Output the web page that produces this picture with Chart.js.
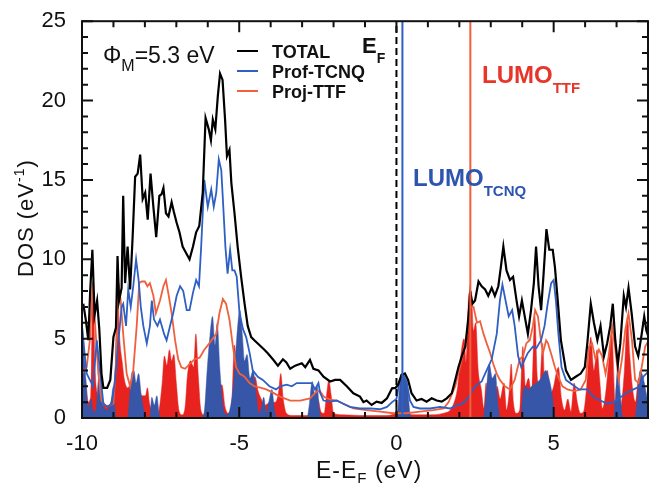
<!DOCTYPE html>
<html>
<head>
<meta charset="utf-8">
<script src="https://cdn.jsdelivr.net/npm/chart.js@4.4.1/dist/chart.umd.min.js"></script>
<style>
  html, body { margin: 0; padding: 0; background: #fff; }
  #wrap { width: 649px; height: 487px; }
</style>
</head>
<body>
<div id="wrap"><canvas id="dos" width="649" height="487"></canvas></div>
<script>
// energies (eV, relative to E_F) and DOS values
const totalE = [-9.96, -9.88, -9.8, -9.74, -9.67, -9.6, -9.52, -9.45, -9.38, -9.32, -9.2, -9.1, -9.0, -8.92, -8.87, -8.82, -8.74, -8.69, -8.63, -8.55, -8.47, -8.39, -8.31, -8.23, -8.15, -8.07, -7.99, -7.91, -7.82, -7.73, -7.64, -7.54, -7.47, -7.41, -7.33, -7.25, -7.15, -7.08, -6.99, -6.9, -6.8, -6.69, -6.58, -6.47, -6.37, -6.27, -6.16, -6.07, -5.97, -5.9, -5.84, -5.76, -5.68, -5.61, -5.53, -5.45, -5.39, -5.31, -5.25, -5.15, -5.05, -4.94, -4.83, -4.73, -4.62, -4.52, -4.36, -4.2, -4.1, -3.93, -3.77, -3.61, -3.5, -3.38, -3.22, -3.01, -2.9, -2.75, -2.64, -2.48, -2.32, -2.11, -1.95, -1.79, -1.58, -1.37, -1.16, -1.05, -0.95, -0.79, -0.63, -0.47, -0.3, -0.14, -0.03, 0.05, 0.16, 0.27, 0.37, 0.48, 0.64, 0.8, 0.96, 1.12, 1.28, 1.44, 1.6, 1.76, 1.87, 1.97, 2.08, 2.19, 2.29, 2.35, 2.42, 2.5, 2.61, 2.71, 2.82, 2.92, 3.03, 3.13, 3.24, 3.32, 3.4, 3.5, 3.61, 3.71, 3.82, 3.9, 3.99, 4.08, 4.18, 4.28, 4.37, 4.44, 4.52, 4.6, 4.68, 4.77, 4.86, 4.97, 5.04, 5.13, 5.23, 5.39, 5.55, 5.7, 5.86, 5.99, 6.07, 6.18, 6.28, 6.39, 6.49, 6.6, 6.7, 6.8, 6.88, 6.96, 7.04, 7.12, 7.23, 7.3, 7.38, 7.48, 7.59, 7.69, 7.8, 7.88, 7.95, 8.0];
const totalDos = [7.2, 6.2, 4.9, 8.0, 10.6, 6.5, 7.4, 5.6, 2.8, 1.9, 1.9, 2.4, 5.1, 5.7, 10.2, 7.4, 8.2, 14.0, 8.5, 10.8, 8.1, 11.4, 15.2, 15.4, 16.6, 13.8, 14.2, 12.5, 15.4, 13.3, 11.4, 14.0, 14.1, 14.5, 12.9, 12.7, 13.6, 13.0, 12.3, 11.7, 10.8, 10.4, 10.0, 10.8, 11.7, 12.1, 14.2, 18.9, 18.2, 17.5, 18.8, 18.2, 20.3, 21.7, 21.3, 18.8, 16.5, 16.9, 14.8, 12.9, 10.8, 8.9, 7.2, 5.8, 5.1, 4.9, 4.6, 4.3, 4.1, 3.7, 3.3, 3.7, 3.5, 3.1, 3.3, 3.45, 3.2, 3.66, 3.1, 3.0, 2.6, 2.3, 2.4, 2.4, 2.0, 1.56, 1.35, 1.0, 1.1, 0.82, 1.03, 0.95, 1.24, 1.87, 1.9, 2.08, 2.7, 2.8, 2.4, 1.56, 1.1, 1.2, 1.03, 1.24, 1.1, 1.03, 1.24, 1.56, 2.4, 3.2, 3.9, 4.5, 6.4, 7.9, 7.2, 7.4, 8.6, 8.3, 8.1, 7.7, 8.2, 7.7, 8.3, 9.5, 10.8, 9.3, 8.7, 8.9, 7.4, 6.4, 7.4, 6.4, 5.3, 6.8, 8.5, 10.8, 8.3, 6.8, 9.1, 11.9, 10.6, 10.6, 9.5, 7.4, 4.9, 3.0, 2.4, 2.6, 2.8, 3.2, 4.7, 7.2, 6.0, 4.9, 5.8, 3.9, 4.7, 5.8, 7.2, 4.9, 3.4, 4.7, 7.7, 7.0, 8.2, 6.6, 4.5, 3.9, 5.3, 6.4, 5.5, 5.2];

const tcnqE = [-10.0, -9.96, -9.85, -9.75, -9.65, -9.53, -9.42, -9.32, -9.2, -9.05, -8.95, -8.84, -8.74, -8.69, -8.6, -8.53, -8.45, -8.37, -8.28, -8.2, -8.13, -8.05, -7.94, -7.84, -7.78, -7.71, -7.6, -7.52, -7.39, -7.31, -7.2, -7.1, -6.99, -6.88, -6.78, -6.67, -6.58, -6.47, -6.37, -6.28, -6.21, -6.11, -6.0, -5.89, -5.81, -5.73, -5.65, -5.57, -5.52, -5.44, -5.37, -5.29, -5.22, -5.15, -5.08, -4.99, -4.88, -4.78, -4.67, -4.57, -4.41, -4.25, -4.04, -3.83, -3.7, -3.49, -3.33, -3.17, -2.96, -2.69, -2.59, -2.48, -2.43, -2.32, -2.11, -1.9, -1.69, -1.48, -1.16, -0.84, -0.52, -0.3, -0.14, 0.0, 0.11, 0.22, 0.32, 0.43, 0.54, 0.75, 1.07, 1.39, 1.7, 1.92, 2.1, 2.29, 2.5, 2.71, 2.82, 3.03, 3.19, 3.29, 3.37, 3.47, 3.57, 3.68, 3.76, 3.87, 3.97, 4.08, 4.18, 4.34, 4.45, 4.6, 4.71, 4.81, 4.92, 5.0, 5.07, 5.15, 5.25, 5.39, 5.6, 5.81, 6.07, 6.28, 6.49, 6.7, 6.91, 7.12, 7.33, 7.54, 7.75, 7.85, 8.0];
const tcnqDos = [5.8, 4.9, 2.8, 2.4, 2.0, 4.9, 2.8, 0.9, 0.7, 0.9, 2.4, 4.9, 7.0, 7.2, 5.8, 8.1, 7.0, 8.3, 10.0, 8.7, 7.0, 5.8, 4.7, 5.8, 7.4, 6.2, 5.8, 6.2, 5.3, 4.9, 5.8, 6.6, 7.7, 8.3, 8.0, 6.8, 6.8, 7.9, 8.7, 8.3, 10.8, 15.0, 13.3, 14.4, 13.3, 14.2, 16.3, 15.6, 13.8, 10.8, 9.1, 10.6, 9.3, 9.3, 8.9, 6.6, 5.6, 5.1, 4.1, 3.0, 2.6, 2.4, 2.0, 1.8, 2.0, 2.1, 2.0, 2.2, 2.2, 2.2, 1.8, 2.2, 1.6, 1.1, 1.03, 1.1, 0.9, 0.7, 0.6, 0.6, 0.55, 0.7, 1.0, 1.2, 2.4, 2.7, 2.3, 1.1, 0.7, 0.6, 0.6, 0.7, 0.6, 0.8, 0.9, 1.3, 2.0, 2.3, 2.8, 3.7, 5.3, 7.4, 8.4, 7.4, 6.4, 6.8, 5.8, 3.9, 3.2, 3.7, 4.1, 4.5, 4.4, 4.9, 5.8, 7.2, 8.5, 8.7, 7.4, 5.3, 3.2, 2.4, 2.1, 1.8, 1.8, 1.3, 1.1, 0.9, 1.0, 1.3, 1.6, 1.8, 2.0, 2.6, 2.9];

const ttfE = [-10.0, -9.85, -9.75, -9.66, -9.58, -9.48, -9.38, -9.22, -9.0, -8.9, -8.84, -8.77, -8.69, -8.58, -8.47, -8.37, -8.26, -8.18, -8.1, -8.0, -7.92, -7.84, -7.73, -7.65, -7.52, -7.41, -7.33, -7.25, -7.15, -7.04, -6.94, -6.84, -6.72, -6.58, -6.42, -6.26, -6.11, -5.95, -5.73, -5.63, -5.52, -5.42, -5.31, -5.2, -5.1, -4.99, -4.83, -4.67, -4.52, -4.3, -4.14, -3.93, -3.7, -3.38, -3.06, -2.75, -2.54, -2.43, -2.32, -2.1, -1.9, -1.69, -1.37, -0.95, -0.52, -0.09, 0.33, 0.75, 1.17, 1.5, 1.66, 1.87, 2.08, 2.24, 2.35, 2.45, 2.56, 2.66, 2.77, 2.87, 2.98, 3.08, 3.19, 3.29, 3.45, 3.61, 3.76, 3.92, 4.03, 4.13, 4.24, 4.34, 4.41, 4.5, 4.58, 4.66, 4.76, 4.82, 4.94, 5.04, 5.14, 5.28, 5.44, 5.65, 5.86, 6.02, 6.12, 6.22, 6.33, 6.44, 6.54, 6.65, 6.75, 6.86, 6.96, 7.07, 7.17, 7.28, 7.38, 7.49, 7.59, 7.7, 7.8, 7.91, 8.0];
const ttfDos = [2.8, 3.2, 4.9, 8.5, 5.8, 2.8, 1.1, 0.7, 0.9, 4.1, 8.5, 7.4, 5.3, 2.8, 2.0, 3.0, 5.8, 8.5, 8.6, 8.6, 8.3, 8.5, 7.7, 6.6, 7.4, 8.3, 8.7, 7.8, 6.6, 4.9, 3.7, 3.2, 3.1, 3.4, 3.7, 3.8, 4.3, 4.7, 5.3, 6.6, 7.5, 7.2, 6.2, 4.5, 3.2, 2.8, 2.6, 2.2, 2.0, 1.9, 1.8, 1.6, 1.35, 1.1, 1.1, 1.24, 1.66, 1.7, 1.35, 1.15, 1.1, 0.9, 0.6, 0.5, 0.4, 0.3, 0.3, 0.4, 0.5, 0.6, 1.0, 2.0, 3.7, 5.3, 7.0, 7.0, 6.0, 6.1, 5.3, 4.7, 4.1, 3.4, 2.8, 2.4, 2.0, 1.8, 2.4, 3.7, 3.9, 4.7, 4.9, 5.8, 6.8, 6.4, 5.1, 4.1, 4.9, 4.7, 3.9, 3.2, 2.6, 2.0, 1.8, 1.7, 1.8, 2.4, 4.5, 4.7, 3.7, 4.3, 3.9, 2.8, 3.9, 5.8, 4.3, 2.4, 3.7, 5.6, 6.6, 4.9, 2.4, 2.2, 3.2, 4.5, 4.8];

// filled partial DOS (red and blue shaded areas)
const redFillE = [-10.0, -9.9, -9.8, -9.72, -9.65, -9.58, -9.5, -9.4, -9.3, -9.15, -9.05, -8.95, -8.87, -8.8, -8.72, -8.65, -8.55, -8.45, -8.3, -8.2, -8.1, -7.98, -7.92, -7.85, -7.75, -7.65, -7.55, -7.45, -7.38, -7.3, -7.22, -7.15, -7.08, -7.0, -6.92, -6.82, -6.72, -6.65, -6.55, -6.45, -6.38, -6.3, -6.22, -6.12, -6.02, -5.95, -5.85, -5.7, -5.55, -5.45, -5.35, -5.25, -5.15, -5.08, -5.0, -4.9, -4.8, -4.7, -4.6, -4.5, -4.4, -4.3, -4.2, -4.0, -3.85, -3.75, -3.68, -3.6, -3.5, -3.3, -2.8, -2.6, -2.5, -2.4, -2.3, -2.22, -2.15, -2.08, -2.0, -1.7, -1.0, -0.3, 0.0, 0.2, 0.5, 1.0, 1.5, 1.8, 1.95, 2.05, 2.15, 2.22, 2.3, 2.38, 2.45, 2.52, 2.6, 2.7, 2.78, 2.85, 2.92, 3.0, 3.1, 3.2, 3.3, 3.42, 3.5, 3.58, 3.65, 3.72, 3.82, 3.92, 4.02, 4.1, 4.2, 4.3, 4.4, 4.48, 4.55, 4.65, 4.72, 4.8, 4.88, 5.0, 5.08, 5.15, 5.25, 5.35, 5.45, 5.55, 5.65, 5.75, 5.85, 5.95, 6.05, 6.12, 6.18, 6.28, 6.38, 6.46, 6.55, 6.65, 6.75, 6.85, 6.95, 7.05, 7.15, 7.25, 7.35, 7.42, 7.5, 7.6, 7.7, 7.8, 7.9, 8.0];
const redFillDos = [1.5, 2.5, 1.0, 1.4, 8.6, 3.0, 1.4, 1.0, 0.8, 0.8, 1.2, 2.5, 8.4, 5.0, 3.5, 2.4, 1.9, 2.1, 1.6, 1.9, 1.4, 1.4, 1.9, 0.9, 0.4, 0.2, 0.5, 2.2, 3.9, 3.3, 4.3, 3.6, 4.0, 2.2, 0.5, 0.2, 0.7, 2.6, 3.6, 3.2, 5.3, 2.6, 0.5, 0.2, 1.0, 3.0, 1.9, 1.6, 2.1, 0.7, 0.3, 0.6, 4.6, 2.4, 1.9, 2.2, 2.0, 2.6, 1.9, 2.6, 1.7, 1.2, 0.8, 1.0, 1.0, 1.6, 2.8, 1.2, 0.3, 0.15, 0.15, 0.4, 1.2, 0.4, 0.3, 1.5, 2.4, 1.5, 0.3, 0.2, 0.15, 0.15, 0.3, 0.4, 0.2, 0.2, 0.3, 0.8, 2.0, 4.0, 5.0, 3.5, 7.8, 8.0, 5.5, 6.0, 3.0, 1.8, 0.6, 2.2, 0.8, 0.4, 0.6, 2.0, 1.2, 2.2, 0.5, 1.5, 3.4, 1.0, 0.3, 0.5, 4.5, 2.0, 2.5, 1.5, 6.4, 2.5, 2.0, 4.7, 2.0, 3.0, 1.5, 2.0, 2.8, 3.2, 1.2, 0.5, 1.2, 0.4, 2.2, 1.0, 0.3, 0.4, 2.0, 4.0, 5.1, 3.0, 4.3, 2.5, 0.6, 1.5, 3.5, 5.3, 1.0, 0.4, 0.8, 3.0, 6.4, 4.0, 2.0, 1.0, 2.5, 1.5, 0.5, 1.0];

const blueFillE = [-10.0, -9.95, -9.88, -9.8, -9.72, -9.64, -9.55, -9.47, -9.4, -9.33, -9.2, -9.08, -9.0, -8.95, -8.9, -8.55, -8.48, -8.42, -8.35, -8.28, -8.2, -8.12, -8.05, -7.98, -7.85, -7.78, -7.7, -7.62, -7.55, -7.5, -6.2, -6.1, -6.02, -5.93, -5.85, -5.77, -5.7, -5.62, -5.52, -5.42, -5.3, -5.18, -5.08, -4.98, -4.9, -4.83, -4.75, -4.66, -4.56, -4.46, -4.38, -4.3, -4.22, -4.14, -4.05, -3.96, -3.88, -3.8, -2.85, -2.76, -2.68, -2.6, -2.52, -2.45, -2.38, 0.02, 0.08, 0.15, 0.25, 0.35, 0.43, 0.5, 2.76, 2.85, 2.95, 3.05, 3.15, 3.22, 3.3, 3.95, 4.02, 4.1, 4.2, 4.3, 4.45, 4.6, 4.75, 4.85, 4.95, 5.02, 5.1, 6.9, 6.97, 7.05, 7.12, 7.2, 7.58, 7.65, 7.75, 7.85, 7.95, 8.0];
const blueFillDos = [6.0, 5.0, 2.5, 0.6, 1.2, 0.4, 0.5, 2.5, 1.8, 0.8, 0.5, 1.0, 2.0, 0.5, 0, 0, 1.5, 2.8, 3.0, 2.2, 2.8, 1.5, 0.6, 0, 0, 1.3, 0.8, 1.4, 0.3, 0, 0, 0.6, 3.0, 5.2, 6.4, 4.6, 6.0, 3.2, 0.8, 0.2, 0.5, 2.2, 5.0, 6.8, 5.2, 3.6, 4.0, 2.5, 3.0, 1.5, 0.3, 0.6, 1.3, 0.3, 1.1, 1.8, 0.5, 0, 0, 1.0, 2.3, 1.5, 2.0, 0.5, 0, 0, 1.5, 2.8, 2.6, 2.0, 0.3, 0, 0, 1.5, 3.4, 2.5, 2.8, 1.0, 0, 0, 1.5, 2.0, 1.8, 2.0, 2.2, 2.5, 3.0, 2.5, 1.5, 0.3, 0, 0, 1.5, 3.4, 1.5, 0, 0, 1.0, 3.0, 2.5, 1.5, 1.0];

// reference levels
const fermiLevel = 0;
const lumoTcnq = 0.19;
const lumoTtf = 2.35;

// axes
const xTicks = [-10, -5, 0, 5];
const yTicks = [0, 5, 10, 15, 20, 25];
const xMin = -10, xMax = 8, yMin = 0, yMax = 25;

const FONT = '"Liberation Sans", Arial, Helvetica, sans-serif';
const RED_LINE = '#f0603c';
const BLUE_LINE = '#2e5fc4';

const pts = (xs, ys) => xs.map((v, i) => ({ x: v, y: ys[i] }));
const vline = (e) => [{ x: e, y: yMin }, { x: e, y: yMax }];

// draws a string made of pieces (for sub/superscripts)
function rich(ctx, x, y, parts, color) {
  ctx.fillStyle = color;
  parts.forEach((p) => {
    ctx.font = (p.bold ? 'bold ' : '') + p.size + 'px ' + FONT;
    ctx.fillText(p.t, x, y + (p.dy || 0));
    x += ctx.measureText(p.t).width + (p.gap || 0);
  });
}

// frame with inward ticks on all four sides (minor every 1, major every 5)
const frameTicks = {
  id: 'frameTicks',
  afterDraw(chart) {
    const c = chart.ctx;
    const a = chart.chartArea;
    const w = a.right - a.left, h = a.bottom - a.top;
    const xpos = (v) => a.left + (v - xMin) / (xMax - xMin) * w;
    const ypos = (v) => a.bottom - (v - yMin) / (yMax - yMin) * h;
    c.save();
    c.setLineDash([]);
    c.strokeStyle = '#111';
    c.lineWidth = 2;
    c.strokeRect(a.left, a.top, w, h);
    c.lineWidth = 2;
    c.beginPath();
    for (let v = xMin; v <= xMax; v += 1) {
      const px = xpos(v);
      const len = Math.abs(v) % 5 === 0 ? 11 : 6;
      c.moveTo(px, a.bottom); c.lineTo(px, a.bottom - len);
      c.moveTo(px, a.top); c.lineTo(px, a.top + len);
    }
    for (let v = yMin; v <= yMax; v += 1) {
      const py = ypos(v);
      const len = v % 5 === 0 ? 11 : 6;
      c.moveTo(a.left, py); c.lineTo(a.left + len, py);
      c.moveTo(a.right, py); c.lineTo(a.right - len, py);
    }
    c.stroke();
    c.restore();
  }
};

const labels = {
  id: 'labels',
  afterDraw(chart) {
    const ctx = chart.ctx;
    ctx.save();
    ctx.textBaseline = 'alphabetic';
    ctx.textAlign = 'left';

    // axis titles
    ctx.letterSpacing = '1px';
    rich(ctx, 316, 478, [
      { t: 'E-E', size: 23 }, { t: 'F', size: 15, dy: 5 }, { t: ' (eV)', size: 23 }
    ], '#111');
    ctx.save();
    ctx.translate(33, 277);
    ctx.rotate(-Math.PI / 2);
    rich(ctx, 0, 0, [
      { t: 'DOS (eV', size: 22 }, { t: '-1', size: 14, dy: -9 }, { t: ')', size: 22 }
    ], '#111');
    ctx.restore();
    ctx.letterSpacing = '0px';

    // work function
    rich(ctx, 103, 63, [
      { t: '\u03a6', size: 23 }, { t: 'M', size: 16, dy: 8 }, { t: '=5.3 eV', size: 23 }
    ], '#111');

    // legend
    const legend = [['TOTAL', '#000'], ['Prof-TCNQ', BLUE_LINE], ['Proj-TTF', RED_LINE]];
    legend.forEach(([name, col], i) => {
      const ly = 51 + i * 20;
      ctx.strokeStyle = col;
      ctx.lineWidth = 2;
      ctx.beginPath(); ctx.moveTo(237, ly); ctx.lineTo(258, ly); ctx.stroke();
      rich(ctx, 272, ly + 6.5, [{ t: name, size: 18, bold: true }], '#111');
    });

    // level labels
    rich(ctx, 362, 53, [{ t: 'E', size: 22, bold: true }, { t: 'F', size: 14, bold: true, dy: 10 }], '#111');
    rich(ctx, 482, 83, [{ t: 'LUMO', size: 24, bold: true }, { t: 'TTF', size: 15, bold: true, dy: 10 }], '#e8352a');
    rich(ctx, 413, 186, [{ t: 'LUMO', size: 24, bold: true }, { t: 'TCNQ', size: 15, bold: true, dy: 10 }], '#2d55b0');

    ctx.restore();
  }
};

const ctx = document.getElementById('dos').getContext('2d');
new Chart(ctx, {
  type: 'line',
  data: {
    datasets: [
      { label: 'TTF fill', data: pts(redFillE, redFillDos), borderColor: '#e8231f', borderWidth: 0.5, backgroundColor: '#e8231f', fill: 'origin', cubicInterpolationMode: 'monotone', order: 9 },
      { label: 'TCNQ fill', data: pts(blueFillE, blueFillDos), borderColor: '#3856a8', borderWidth: 0.5, backgroundColor: '#3856a8', fill: 'origin', cubicInterpolationMode: 'monotone', order: 8 },
      { label: 'Proj-TTF', data: pts(ttfE, ttfDos), borderColor: RED_LINE, borderWidth: 1.8, fill: false, order: 7 },
      { label: 'Prof-TCNQ', data: pts(tcnqE, tcnqDos), borderColor: BLUE_LINE, borderWidth: 1.8, fill: false, order: 6 },
      { label: 'TOTAL', data: pts(totalE, totalDos), borderColor: '#000', borderWidth: 2.2, fill: false, order: 5 },
      { label: 'LUMO TCNQ', data: vline(lumoTcnq), borderColor: BLUE_LINE, borderWidth: 2, fill: false, order: 4 },
      { label: 'LUMO TTF', data: vline(lumoTtf), borderColor: RED_LINE, borderWidth: 2, fill: false, order: 4 },
      { label: 'E_F', data: vline(fermiLevel), borderColor: '#000', borderWidth: 2, borderDash: [7, 4], fill: false, order: 3 }
    ]
  },
  options: {
    responsive: false,
    animation: false,
    elements: { point: { radius: 0 }, line: { tension: 0 } },
    layout: { padding: { top: 21, right: 1, left: 0, bottom: 0 } },
    plugins: { legend: { display: false }, tooltip: { enabled: false } },
    scales: {
      x: {
        type: 'linear',
        min: xMin,
        max: xMax,
        afterBuildTicks: (s) => { s.ticks = xTicks.map((v) => ({ value: v })); },
        afterFit: (s) => { s.height = 69; },
        grid: { display: false },
        border: { display: false },
        ticks: { autoSkip: false, maxRotation: 0, padding: 5, color: '#111', font: { family: FONT, size: 22 } }
      },
      y: {
        type: 'linear',
        min: yMin,
        max: yMax,
        afterBuildTicks: (s) => { s.ticks = yTicks.map((v) => ({ value: v })); },
        afterFit: (s) => { s.width = 82; },
        grid: { display: false },
        border: { display: false },
        ticks: { autoSkip: false, padding: 8, color: '#111', font: { family: FONT, size: 22 } }
      }
    }
  },
  plugins: [frameTicks, labels]
});
</script>
</body>
</html>
